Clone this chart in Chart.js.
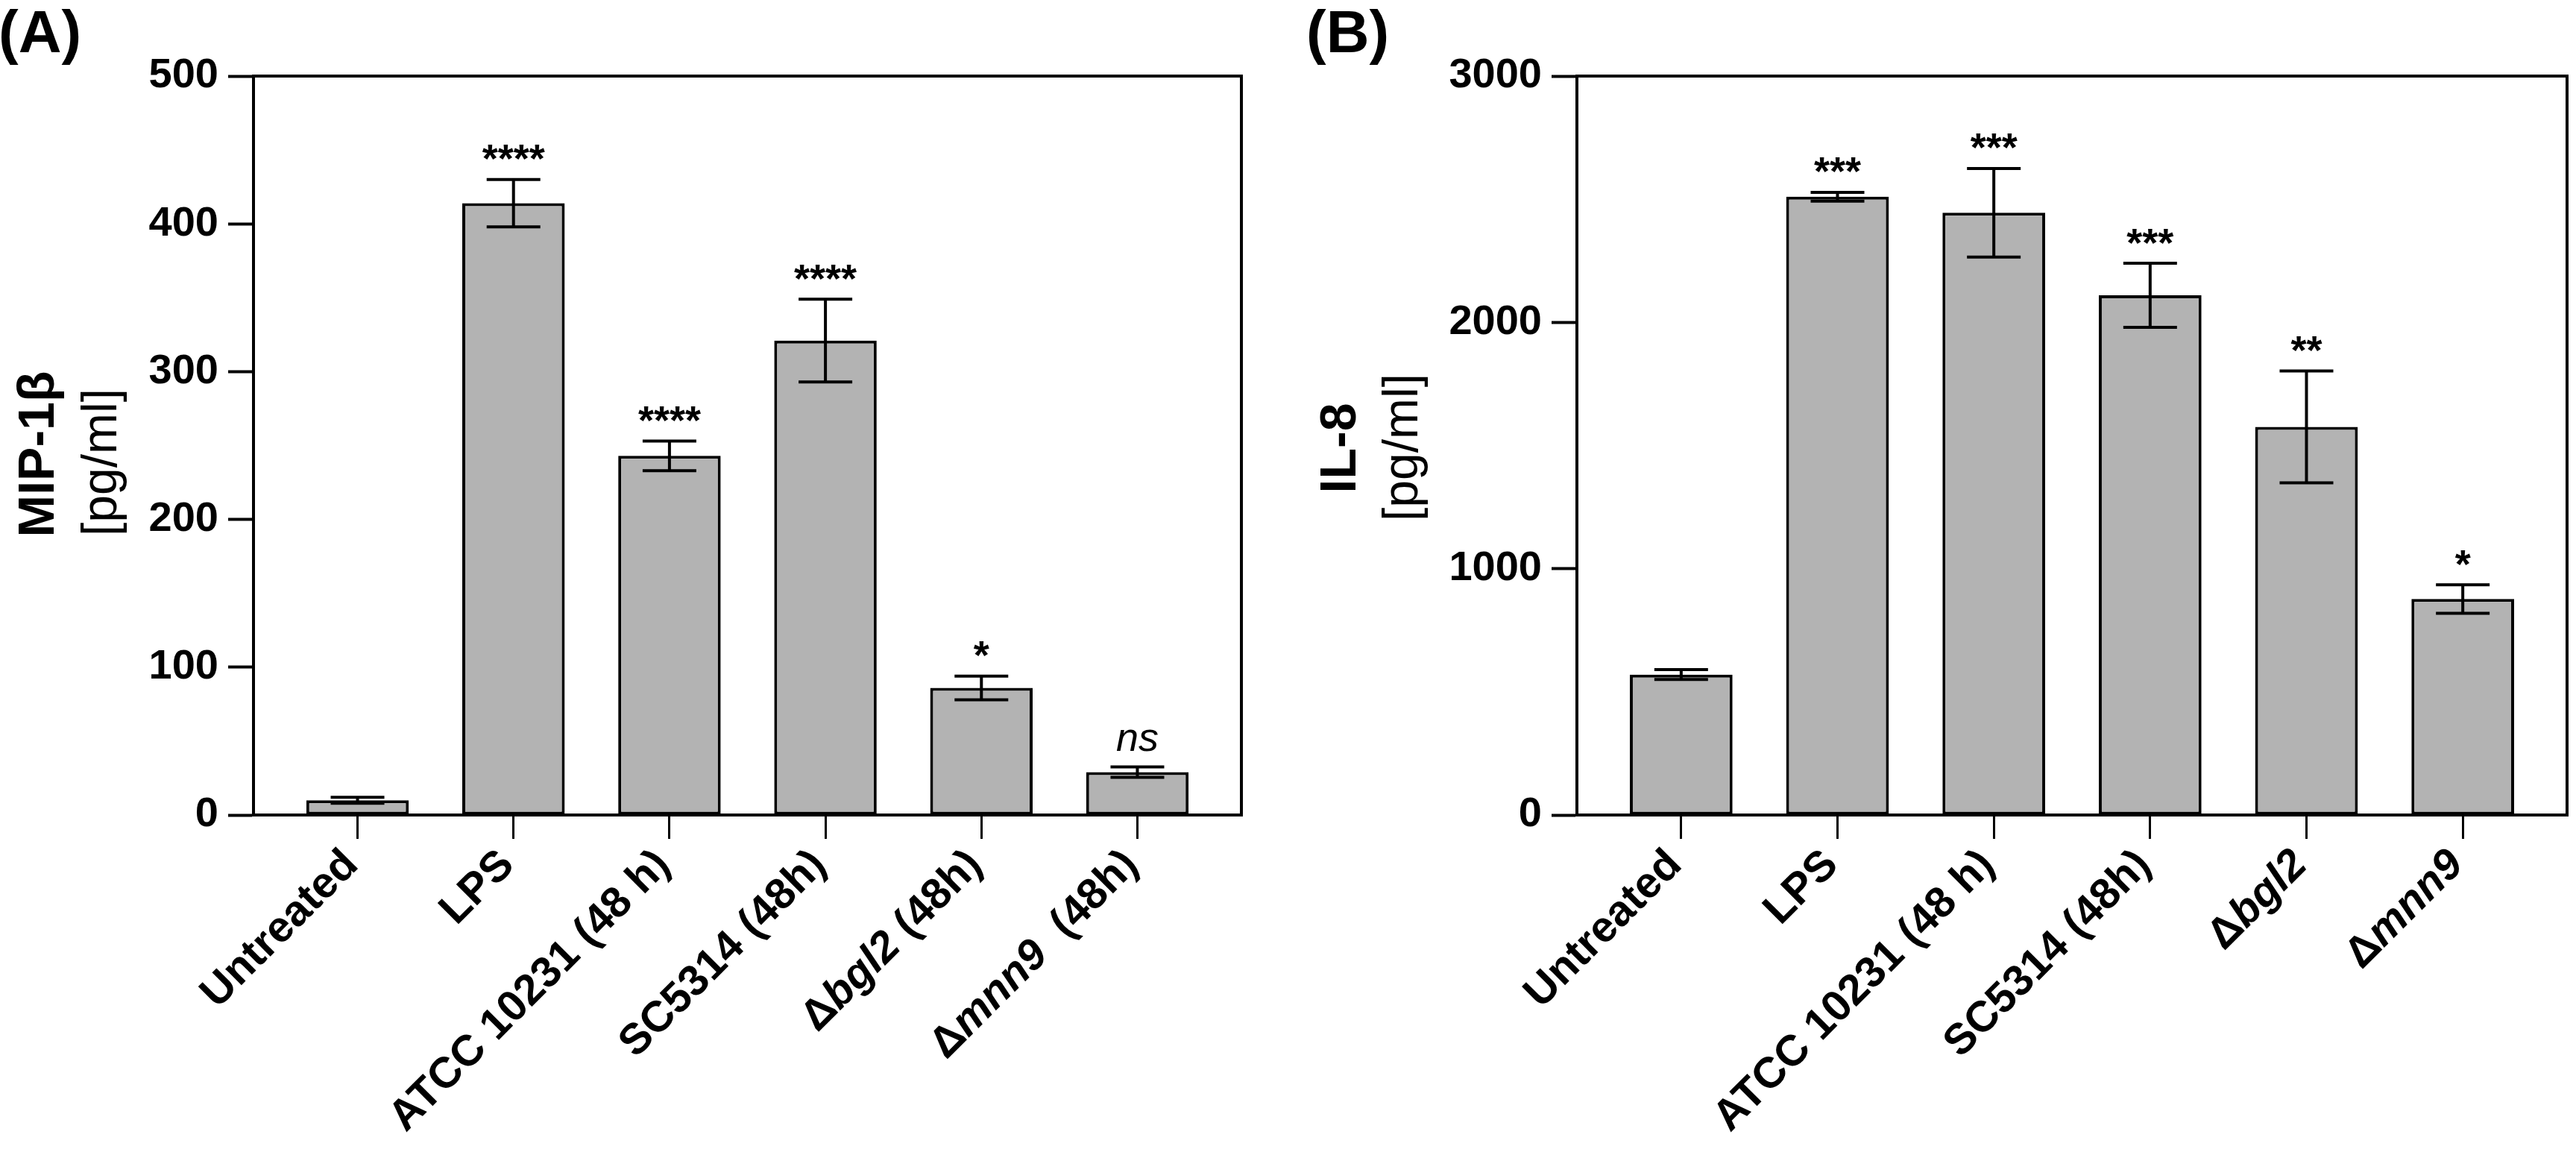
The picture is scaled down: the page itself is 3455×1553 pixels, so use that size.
<!DOCTYPE html>
<html>
<head>
<meta charset="utf-8">
<script src="https://cdn.jsdelivr.net/npm/chart.js@4.4.1/dist/chart.umd.min.js"></script>
<style>
    html, body { margin: 0; padding: 0; background: #fff; }
    #wrap { position: relative; width: 3455px; height: 1553px; overflow: hidden; background: #fff; }
    canvas { position: absolute; top: 0; }
</style>
</head>
<body>
<div id="wrap">
    <canvas id="chartA" width="1728" height="1553" style="left:0px"></canvas>
    <canvas id="chartB" width="1727" height="1553" style="left:1728px"></canvas>
</div>
<script>
// data
const categoriesA = ["Untreated", "LPS", "ATCC 10231 (48 h)", "SC5314 (48h)", "\u0394bgl2 (48h)", "\u0394mnn9  (48h)"];
const categoriesB = ["Untreated", "LPS", "ATCC 10231 (48 h)", "SC5314 (48h)", "\u0394bgl2", "\u0394mnn9"];
const italicWords = ["bgl2", "mnn9"];

const mip1bMean = [10, 414, 243, 321, 86, 29];
const mip1bErr = [2, 16, 10, 28, 8, 3.5];
const mip1bSig = ["", "****", "****", "****", "*", "ns"];
const mip1bTicks = [0, 100, 200, 300, 400, 500];

const il8Mean = [570, 2510, 2445, 2110, 1576, 877];
const il8Err = [20, 18, 180, 130, 227, 58];
const il8Sig = ["", "***", "***", "***", "**", "*"];
const il8Ticks = [0, 1000, 2000, 3000];

const FONT = '"Liberation Sans", Arial, Helvetica, sans-serif';
const PAGE_H = 1553;
const PLOT_TOP = 102;
const PLOT_BOTTOM = 1093;

// error bars + significance marks
const errorBarPlugin = {
    id: "errorBars",
    afterDatasetsDraw(chart, args, opts) {
        const ctx = chart.ctx;
        const xs = chart.scales.x, ys = chart.scales.y;
        ctx.save();
        ctx.strokeStyle = "#000";
        ctx.lineWidth = 4;
        opts.means.forEach((m, i) => {
            const x = xs.getPixelForValue(i);
            const yHi = ys.getPixelForValue(m + opts.errors[i]);
            const yLo = ys.getPixelForValue(m - opts.errors[i]);
            ctx.beginPath();
            ctx.moveTo(x, yHi); ctx.lineTo(x, yLo);
            ctx.moveTo(x - 36, yHi); ctx.lineTo(x + 36, yHi);
            ctx.moveTo(x - 36, yLo); ctx.lineTo(x + 36, yLo);
            ctx.stroke();

            const s = opts.sig[i];
            if (!s) return;
            ctx.font = s === "ns" ? `italic 54px ${FONT}` : `bold 54px ${FONT}`;
            ctx.fillStyle = "#000";
            ctx.textAlign = "center";
            ctx.textBaseline = "alphabetic";
            const mt = ctx.measureText(s);
            const mid = (mt.actualBoundingBoxAscent - mt.actualBoundingBoxDescent) / 2;
            ctx.fillText(s, x, yHi - 36 + mid);
        });
        ctx.restore();
    }
};

// rotated category labels with italic gene names
const xLabelPlugin = {
    id: "xLabels",
    afterDraw(chart, args, opts) {
        const ctx = chart.ctx;
        const xs = chart.scales.x;
        const re = new RegExp("(" + italicWords.join("|") + ")");
        ctx.save();
        ctx.fillStyle = "#000";
        opts.labels.forEach((label, i) => {
            const parts = label.split(re).filter(p => p.length);
            const segs = parts.map(p => ({
                text: p,
                font: italicWords.includes(p) ? `italic bold 58px ${FONT}` : `bold 58px ${FONT}`
            }));
            let total = 0;
            segs.forEach(sg => { ctx.font = sg.font; sg.w = ctx.measureText(sg.text).width; total += sg.w; });
            ctx.save();
            ctx.translate(xs.getPixelForValue(i) - 8, xs.top + 58);
            ctx.rotate(-Math.PI / 4);
            ctx.textAlign = "left";
            ctx.textBaseline = "middle";
            let cx = -total;
            segs.forEach(sg => { ctx.font = sg.font; ctx.fillText(sg.text, cx, 0); cx += sg.w; });
            ctx.restore();
        });
        ctx.restore();
    }
};

// box top/right, y title, panel letter
const decorPlugin = {
    id: "decor",
    afterDraw(chart, args, opts) {
        const ctx = chart.ctx;
        const a = chart.chartArea;
        ctx.save();
        ctx.strokeStyle = "#000";
        ctx.lineWidth = 4;
        ctx.lineCap = "square";
        ctx.beginPath();
        ctx.moveTo(a.left, a.top);
        ctx.lineTo(a.right, a.top);
        ctx.lineTo(a.right, a.bottom);
        ctx.stroke();

        ctx.fillStyle = "#000";
        opts.title.forEach(t => {
            ctx.save();
            ctx.translate(t.x, t.y);
            ctx.rotate(-Math.PI / 2);
            ctx.font = t.font;
            ctx.textAlign = "center";
            ctx.textBaseline = "alphabetic";
            ctx.fillText(t.text, 0, 0);
            ctx.restore();
        });

        ctx.font = `bold 80px ${FONT}`;
        ctx.textAlign = "left";
        ctx.textBaseline = "alphabetic";
        ctx.fillText(opts.panel, opts.panelX, 70);
        ctx.restore();
    }
};

function makePanel(canvasId, cfg) {
    const canvas = document.getElementById(canvasId);
    const W = canvas.width;
    return new Chart(canvas, {
        type: "bar",
        data: {
            datasets: [{
                data: cfg.means.map((v, i) => ({ x: i, y: v })),
                backgroundColor: "#b3b3b3",
                borderColor: "#000",
                borderWidth: 4,
                borderSkipped: false,
                categoryPercentage: 1,
                barPercentage: 0.657
            }]
        },
        options: {
            responsive: false,
            animation: false,
            devicePixelRatio: 1,
            layout: { padding: { left: 0, right: W - cfg.plotRight, top: PLOT_TOP, bottom: 0 } },
            plugins: {
                legend: { display: false },
                tooltip: { enabled: false },
                errorBars: { means: cfg.means, errors: cfg.errors, sig: cfg.sig },
                xLabels: { labels: cfg.categories },
                decor: { title: cfg.title, panel: cfg.panel, panelX: cfg.panelX }
            },
            scales: {
                x: {
                    type: "linear",
                    offset: false,
                    min: -0.667,
                    max: cfg.categories.length - 1 + 0.667,
                    afterBuildTicks: s => { s.ticks = cfg.categories.map((c, i) => ({ value: i })); },
                    afterFit: s => { s.height = PAGE_H - PLOT_BOTTOM; },
                    ticks: { display: false },
                    grid: { offset: false, drawOnChartArea: false, drawTicks: true, tickLength: 32, tickWidth: 3, tickColor: "#000" },
                    border: { display: true, color: "#000", width: 4 }
                },
                y: {
                    min: cfg.ticks[0],
                    max: cfg.ticks[cfg.ticks.length - 1],
                    afterBuildTicks: s => { s.ticks = cfg.ticks.map(v => ({ value: v })); },
                    afterFit: s => { s.width = cfg.plotLeft; },
                    ticks: {
                        color: "#000", padding: 13,
                        font: { family: FONT, size: 56, weight: "bold" },
                        callback: v => String(v)
                    },
                    grid: { drawOnChartArea: false, drawTicks: true, tickLength: 34, tickWidth: 4, tickColor: "#000" },
                    border: { display: true, color: "#000", width: 4 }
                }
            }
        },
        plugins: [errorBarPlugin, xLabelPlugin, decorPlugin]
    });
}

makePanel("chartA", {
    categories: categoriesA, means: mip1bMean, errors: mip1bErr, sig: mip1bSig, ticks: mip1bTicks,
    plotLeft: 340, plotRight: 1665, panel: "(A)", panelX: -2,
    title: [
        { text: "MIP-1\u03b2", font: `bold 68px ${FONT}`, x: 72, y: 609 },
        { text: "[pg/ml]", font: `66px ${FONT}`, x: 156, y: 620 }
    ]
});

makePanel("chartB", {
    categories: categoriesB, means: il8Mean, errors: il8Err, sig: il8Sig, ticks: il8Ticks,
    plotLeft: 387, plotRight: 1715, panel: "(B)", panelX: 24,
    title: [
        { text: "IL-8", font: `bold 68px ${FONT}`, x: 90, y: 601 },
        { text: "[pg/ml]", font: `66px ${FONT}`, x: 173, y: 600 }
    ]
});
</script>
</body>
</html>
